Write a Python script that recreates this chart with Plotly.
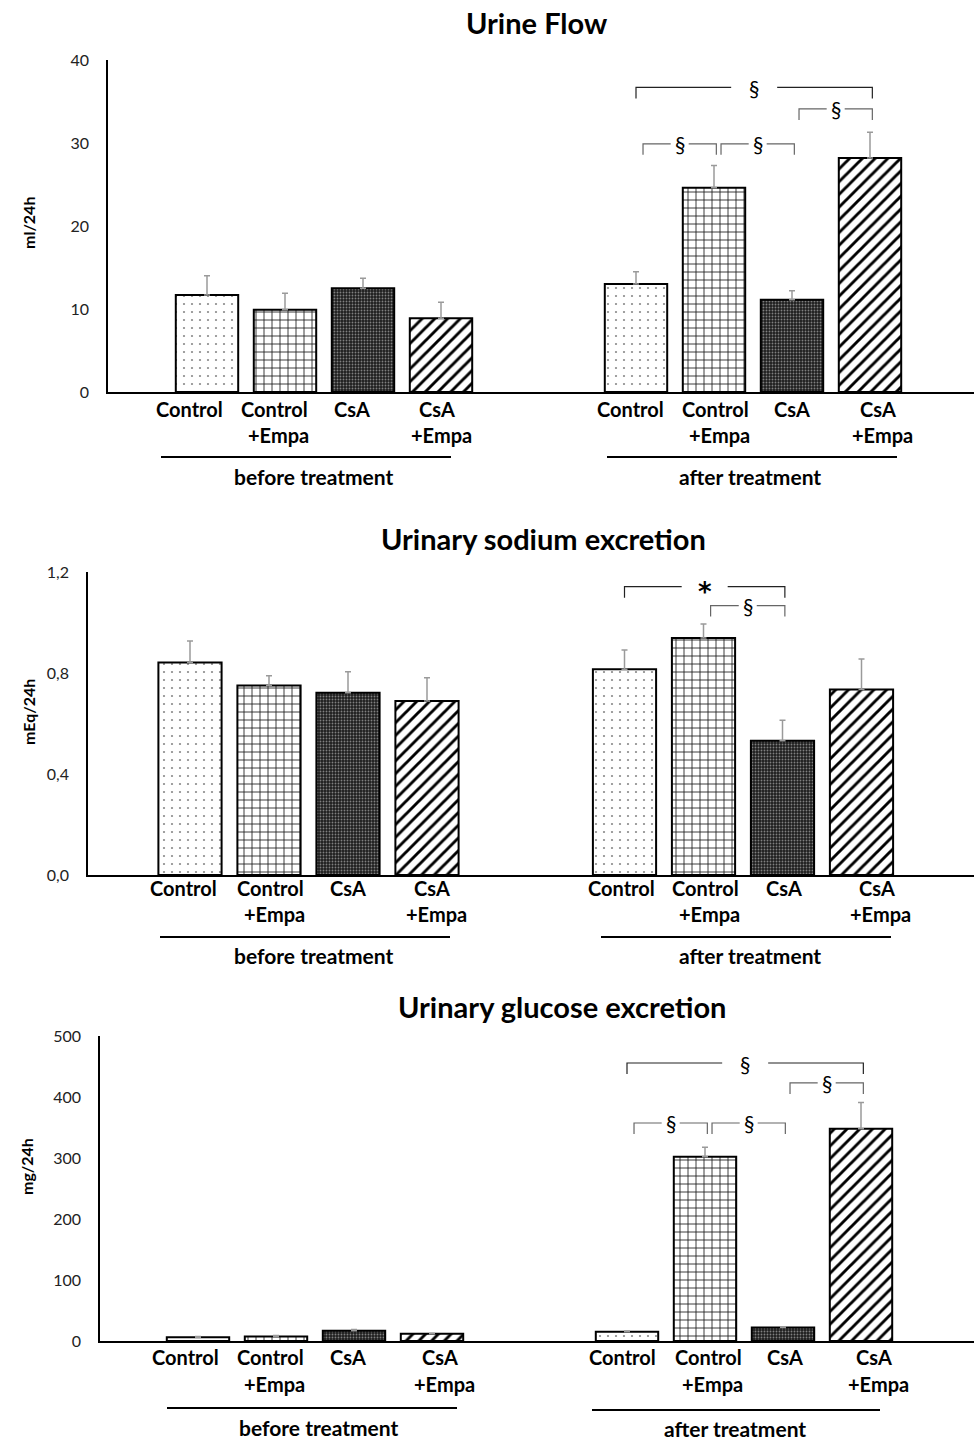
import plotly.graph_objects as go

# ---------------- data ----------------
groups = ["Control", "Control+Empa", "CsA", "CsA+Empa"]
label_line1 = ["Control", "Control", "CsA", "CsA"]
label_line2 = ["", "+Empa", "", "+Empa"]
phases = ["before treatment", "after treatment"]

titles = ["Urine Flow", "Urinary sodium excretion", "Urinary glucose excretion"]
y_titles = ["ml/24h", "mEq/24h", "mg/24h"]

flow_before = [11.7, 9.9, 12.5, 8.9]
flow_before_err = [2.3, 2.0, 1.2, 1.9]
flow_after = [13.0, 24.6, 11.1, 28.2]
flow_after_err = [1.5, 2.7, 1.1, 3.1]

sodium_before = [0.842, 0.750, 0.722, 0.689]
sodium_before_err = [0.085, 0.039, 0.083, 0.092]
sodium_after = [0.815, 0.939, 0.532, 0.735]
sodium_after_err = [0.076, 0.055, 0.081, 0.120]

glucose_before = [6.0, 7.5, 17.0, 12.0]
glucose_before_err = [1.5, 1.5, 2.0, 0.5]
glucose_after = [15.0, 302.0, 22.0, 348.0]
glucose_after_err = [1.5, 15.5, 1.5, 43.0]

flow_ticks = [0, 10, 20, 30, 40]
flow_ticktext = ["0", "10", "20", "30", "40"]
sodium_ticks = [0, 0.4, 0.8, 1.2]
sodium_ticktext = ["0,0", "0,4", "0,8", "1,2"]
glucose_ticks = [0, 100, 200, 300, 400, 500]
glucose_ticktext = ["0", "100", "200", "300", "400", "500"]

# significance brackets on after-treatment groups: (left group, right group, level, mark)
flow_sig = [(0, 3, 36.7, "§"), (2, 3, 34.1, "§"), (0, 1, 29.9, "§"), (1, 2, 29.9, "§")]
sodium_sig = [(0, 2, 1.142, "*"), (1, 2, 1.067, "§")]
glucose_sig = [(0, 3, 455.7, "§"), (2, 3, 423.0, "§"), (0, 1, 357.4, "§"), (1, 2, 357.4, "§")]

# ---------------- layout constants (pixels) ----------------
W, H = 974, 1441
GROUP_GAP = 5.5

panels = [
    dict(before=flow_before, berr=flow_before_err, after=flow_after, aerr=flow_after_err,
         ticks=flow_ticks, ticktext=flow_ticktext, ymax=40, sig=flow_sig,
         axis_x=108, top=60, bottom=392, x0c=207, unit=78,
         title_xy=(537, 22), ytitle_xy=(28, 223),
         row1=409, row2=435, rule_y=(457, 457), rules=((161, 451), (607, 897)),
         group_y=(476, 476), group_x=(314, 750),
         shift_b=[-18, -11, -11, -4], shift_a=[-6, 1, 0, 8]),
    dict(before=sodium_before, berr=sodium_before_err, after=sodium_after, aerr=sodium_after_err,
         ticks=sodium_ticks, ticktext=sodium_ticktext, ymax=1.2, sig=sodium_sig,
         axis_x=88, top=572, bottom=875, x0c=190, unit=79,
         title_xy=(543, 538), ytitle_xy=(28, 712),
         row1=888, row2=914, rule_y=(937, 937), rules=((160, 450), (601, 891)),
         group_y=(955, 955), group_x=(314, 750),
         shift_b=[-7, 1, 0, 5], shift_a=[-3, 2, 1, 15]),
    dict(before=glucose_before, berr=glucose_before_err, after=glucose_after, aerr=glucose_after_err,
         ticks=glucose_ticks, ticktext=glucose_ticktext, ymax=500, sig=glucose_sig,
         axis_x=100, top=1036, bottom=1341, x0c=198, unit=78,
         title_xy=(562, 1006), ytitle_xy=(26, 1167),
         row1=1357, row2=1384, rule_y=(1408, 1410), rules=((167, 457), (592, 880)),
         group_y=(1427, 1428), group_x=(319, 735),
         shift_b=[-13, -6, -6, 8], shift_a=[-5, 3, 2, 13]),
]

patterns = [
    dict(shape=".", bgcolor="white", fgcolor="#8a8a8a", fgopacity=1, size=8, solidity=0.06,
         fillmode="overlay"),
    dict(shape="+", bgcolor="white", fgcolor="#1a1a1a", fgopacity=1, size=8, solidity=0.2,
         fillmode="overlay"),
    dict(shape=".", bgcolor="#1e1e1e", fgcolor="#808080", fgopacity=1, size=3, solidity=0.3,
         fillmode="overlay"),
    dict(shape="/", bgcolor="white", fgcolor="#000000", fgopacity=1, size=9, solidity=0.32,
         fillmode="overlay"),
]
bar_colors = ["white", "white", "#1e1e1e", "white"]

FONT = "Lato"


def py(p):
    return 1 - p / H


def pxp(p):
    return p / W


fig = go.Figure()
shapes = []
annotations = []

for k, P in enumerate(panels):
    n = k + 1
    xa = "x" if n == 1 else f"x{n}"
    ya = "y" if n == 1 else f"y{n}"
    pos_b = list(range(len(groups)))
    pos_a = [p + GROUP_GAP for p in pos_b]

    for gi in range(len(groups)):
        fig.add_trace(go.Bar(
            x=[pos_b[gi], pos_a[gi]],
            y=[P["before"][gi], P["after"][gi]],
            width=0.8,
            marker=dict(color=bar_colors[gi], line=dict(color="#000000", width=2),
                        pattern=patterns[gi]),
            error_y=dict(type="data", symmetric=False,
                         array=[P["berr"][gi], P["aerr"][gi]], arrayminus=[0, 0],
                         color="#9a9a9a", thickness=1.5, width=3),
            xaxis=xa, yaxis=ya, showlegend=False, name=groups[gi],
        ))

    xr = [-(P["x0c"] - P["axis_x"]) / P["unit"], (W - P["x0c"]) / P["unit"]]
    xkey = "xaxis" if n == 1 else f"xaxis{n}"
    ykey = "yaxis" if n == 1 else f"yaxis{n}"
    fig.update_layout({
        xkey: dict(domain=[pxp(P["axis_x"]), 1.0], range=xr, showline=True, linecolor="#000000",
                   linewidth=1.5, showgrid=False, zeroline=False, showticklabels=False, ticks="",
                   anchor=ya, fixedrange=True, automargin=False),
        ykey: dict(domain=[py(P["bottom"]), py(P["top"])], range=[0, P["ymax"]], showline=True,
                   linecolor="#000000", linewidth=1.5, showgrid=False, zeroline=False,
                   tickvals=P["ticks"], ticktext=P["ticktext"], ticks="",
                   tickfont=dict(family=FONT, size=16, color="#222222"),
                   ticklabelstandoff=14, anchor=xa, fixedrange=True, automargin=False),
    })

    # title
    annotations.append(dict(text=f"<b>{titles[k]}</b>", xref="paper", yref="paper",
                            x=pxp(P["title_xy"][0]), y=py(P["title_xy"][1]),
                            xanchor="center", yanchor="middle", showarrow=False,
                            font=dict(family=FONT, size=29, color="#000000")))
    # y-axis title
    annotations.append(dict(text=f"<b>{y_titles[k]}</b>", xref="paper", yref="paper",
                            x=pxp(P["ytitle_xy"][0]), y=py(P["ytitle_xy"][1]),
                            xanchor="center", yanchor="middle", showarrow=False, textangle=-90,
                            font=dict(family=FONT, size=16, color="#000000")))

    # category labels
    for phase_i, (posl, shifts) in enumerate(((pos_b, P["shift_b"]), (pos_a, P["shift_a"]))):
        for gi in range(len(groups)):
            annotations.append(dict(text=f"<b>{label_line1[gi]}</b>", xref=xa, yref="paper",
                                    x=posl[gi], y=py(P["row1"]), xshift=shifts[gi],
                                    xanchor="center", yanchor="middle", showarrow=False,
                                    font=dict(family=FONT, size=20, color="#000000")))
            if label_line2[gi]:
                annotations.append(dict(text=f"<b>{label_line2[gi]}</b>", xref=xa, yref="paper",
                                        x=posl[gi], y=py(P["row2"]), xshift=shifts[gi] + 4,
                                        xanchor="center", yanchor="middle", showarrow=False,
                                        font=dict(family=FONT, size=20, color="#000000")))
        rx0, rx1 = P["rules"][phase_i]
        shapes.append(dict(type="line", xref="paper", yref="paper",
                           x0=pxp(rx0), x1=pxp(rx1), y0=py(P["rule_y"][phase_i]),
                           y1=py(P["rule_y"][phase_i]), line=dict(color="#000000", width=2)))
        annotations.append(dict(text=f"<b>{phases[phase_i]}</b>", xref="paper", yref="paper",
                                x=pxp(P["group_x"][phase_i]), y=py(P["group_y"][phase_i]),
                                xanchor="center", yanchor="middle", showarrow=False,
                                font=dict(family=FONT, size=21, color="#000000")))

    # significance brackets
    pxu = (P["bottom"] - P["top"]) / P["ymax"]
    leg = 11 / pxu
    for (i, j, lvl, mark) in P["sig"]:
        big = (j - i) > 1
        x0 = pos_a[i] + (0.0 if big else 0.09)
        x1 = pos_a[j] + 0.03
        col = "#222222" if big else "#666666"
        shapes.append(dict(type="path", xref=xa, yref=ya,
                           path=f"M {x0},{lvl - leg} L {x0},{lvl} L {x1},{lvl} L {x1},{lvl - leg}",
                           line=dict(color=col, width=1.2)))
        if mark == "*":
            mfont = dict(family="DejaVu Sans", size=26, color="#000000")
            ysh = -5
        else:
            mfont = dict(family=FONT, size=21, color="#000000")
            ysh = 0
        annotations.append(dict(text=f"<b>{mark}</b>" if mark == "*" else mark,
                                xref=xa, yref=ya, x=(x0 + x1) / 2, y=lvl, yshift=ysh,
                                xanchor="center", yanchor="middle", showarrow=False,
                                bgcolor="rgba(0,0,0,0)", borderpad=0, font=mfont))
        # white gap behind the mark
        half = (23 if big else 9) / P["unit"]
        shapes.append(dict(type="line", xref=xa, yref=ya, layer="above",
                           x0=(x0 + x1) / 2 - half, x1=(x0 + x1) / 2 + half, y0=lvl, y1=lvl,
                           line=dict(color="white", width=3)))

fig.update_layout(width=W, height=H, margin=dict(l=0, r=0, t=0, b=0, autoexpand=False),
                  paper_bgcolor="white", plot_bgcolor="white", barmode="overlay",
                  shapes=shapes, annotations=annotations)

fig.write_html("out.html", config={"displayModeBar": False},
               post_script="document.body.style.margin='0';document.body.style.padding='0';")
